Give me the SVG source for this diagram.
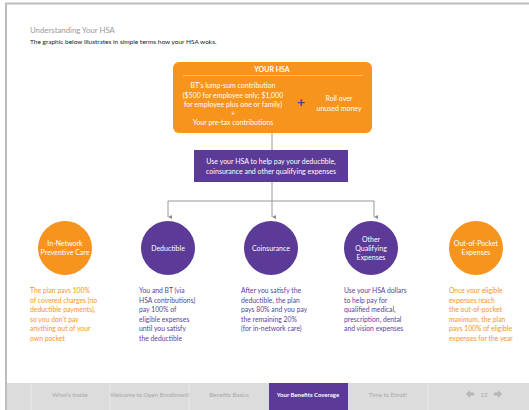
<svg xmlns="http://www.w3.org/2000/svg" width="529" height="410" viewBox="0 0 529 410">
  <defs>
    <style>
      text { font-family: Lato, "Open Sans", "Liberation Sans", sans-serif; }
      .title { font-size: 7.8px; fill: #9a9a9a; }
      .sub { font-size: 6.5px; fill: #222; }
      .wt { fill: #ffffff; font-size: 7px; text-anchor: middle; }
      .body-p { fill: #5b3f9a; font-size: 6.8px; }
      .body-o { fill: #f7941d; font-size: 6.8px; }
      .nav { fill: #a8a8a8; font-size: 6px; text-anchor: middle; }
      .conn { fill: none; stroke: #8c8c8c; stroke-width: 0.9; }
      .orange { fill: #f7941d; }
      .purple { fill: #5b3a98; }
    </style>
    <marker id="arr" viewBox="0 0 6 6" refX="3" refY="6" markerWidth="4" markerHeight="4" orient="auto-start-reverse" markerUnits="userSpaceOnUse">
      <path d="M0,0 L6,0 L3,6 Z" fill="#8c8c8c"/>
    </marker>
  </defs>

  <rect width="529" height="410" fill="#ffffff"/>
  <!-- page frame -->
  <line x1="5" y1="3.5" x2="529" y2="3.5" stroke="#bdbdbd" stroke-width="2"/>
  <line x1="6" y1="3" x2="6" y2="410" stroke="#bdbdbd" stroke-width="2"/>

  <text class="title" x="30" y="33">Understanding Your HSA</text>
  <text class="sub" x="30" y="44">The graphic below illustrates in simple terms how your HSA woks.</text>

  <!-- connectors -->
  <g id="connectors">
    <line class="conn" x1="272" y1="133" x2="272" y2="150"/>
    <line class="conn" x1="272" y1="182" x2="272" y2="201"/>
    <polyline class="conn" points="168,217 168,201 374,201 374,217" marker-start="url(#arr)" marker-end="url(#arr)"/>
    <line class="conn" x1="272" y1="201" x2="272" y2="217" marker-end="url(#arr)"/>
  </g>

  <g id="your-hsa">
    <rect class="orange" x="173" y="62" width="199" height="71" rx="6"/>
    <text class="wt" x="272" y="72" font-weight="bold">YOUR HSA</text>
    <line x1="183" y1="75.5" x2="363" y2="75.5" stroke="#fbc98d" stroke-width="0.8"/>
    <text class="wt" x="233" y="88">BT’s lump-sum contribution</text>
    <text class="wt" x="233" y="97.5">($500 for employee only; $1,000</text>
    <text class="wt" x="233" y="107">for employee plus one or family)</text>
    <text class="wt" x="233" y="116">+</text>
    <text class="wt" x="233" y="125">Your pre-tax contributions</text>
    <text x="301" y="107" fill="#5b3a98" font-size="14" font-weight="bold" text-anchor="middle">+</text>
    <text class="wt" x="339" y="101">Roll over</text>
    <text class="wt" x="339" y="110.5">unused money</text>
  </g>

  <g id="use-hsa">
    <rect class="purple" x="194" y="150" width="154" height="32"/>
    <text class="wt" x="271" y="164">Use your HSA to help pay your deductible,</text>
    <text class="wt" x="271" y="173.5">coinsurance and other qualifying expenses</text>
  </g>

  <g id="preventive">
    <circle class="orange" cx="65" cy="248" r="27"/>
    <text class="wt" x="65" y="246">In-Network</text>
    <text class="wt" x="65" y="255">Preventive Care</text>
    <text class="body-o" x="30">
      <tspan x="30" y="293">The plan pays 100%</tspan>
      <tspan x="30" y="302.5">of covered charges (no</tspan>
      <tspan x="30" y="312">deductible payments),</tspan>
      <tspan x="30" y="321.5">so you don’t pay</tspan>
      <tspan x="30" y="331">anything out of your</tspan>
      <tspan x="30" y="340.5">own pocket</tspan>
    </text>
  </g>

  <g id="deductible">
    <circle class="purple" cx="168" cy="248" r="27"/>
    <text class="wt" x="168" y="251">Deductible</text>
    <text class="body-p">
      <tspan x="139" y="293">You and BT (via</tspan>
      <tspan x="139" y="302.5">HSA contributions)</tspan>
      <tspan x="139" y="312">pay 100% of</tspan>
      <tspan x="139" y="321.5">eligible expenses</tspan>
      <tspan x="139" y="331">until you satisfy</tspan>
      <tspan x="139" y="340.5">the deductible</tspan>
    </text>
  </g>

  <g id="coinsurance">
    <circle class="purple" cx="271" cy="248" r="27"/>
    <text class="wt" x="271" y="251">Coinsurance</text>
    <text class="body-p">
      <tspan x="241" y="293">After you satisfy the</tspan>
      <tspan x="241" y="302.5">deductible, the plan</tspan>
      <tspan x="241" y="312">pays 80% and you pay</tspan>
      <tspan x="241" y="321.5">the remaining 20%</tspan>
      <tspan x="241" y="331">(for in-network care)</tspan>
    </text>
  </g>

  <g id="other-expenses">
    <circle class="purple" cx="371" cy="248" r="27"/>
    <text class="wt" x="371" y="242">Other</text>
    <text class="wt" x="371" y="251">Qualifying</text>
    <text class="wt" x="371" y="260">Expenses</text>
    <text class="body-p">
      <tspan x="344" y="293">Use your HSA dollars</tspan>
      <tspan x="344" y="302.5">to help pay for</tspan>
      <tspan x="344" y="312">qualified medical,</tspan>
      <tspan x="344" y="321.5">prescription, dental</tspan>
      <tspan x="344" y="331">and vision expenses</tspan>
    </text>
  </g>

  <g id="out-of-pocket">
    <circle class="orange" cx="476" cy="248" r="27"/>
    <text class="wt" x="476" y="246">Out-of-Pocket</text>
    <text class="wt" x="476" y="255">Expenses</text>
    <text class="body-o">
      <tspan x="449" y="293">Once your eligible</tspan>
      <tspan x="449" y="302.5">expenses reach</tspan>
      <tspan x="449" y="312">the out-of-pocket</tspan>
      <tspan x="449" y="321.5">maximum, the plan</tspan>
      <tspan x="449" y="331">pays 100% of eligible</tspan>
      <tspan x="449" y="340.5">expenses for the year</tspan>
    </text>
  </g>

  <!-- bottom navigation bar -->
  <g id="nav">
    <rect x="7" y="383" width="522" height="27" fill="#dcdcdc"/>
    <rect x="269" y="383" width="79" height="27" fill="#5b3a98"/>
    <g stroke="#eeeeee" stroke-width="0.8">
      <line x1="31" y1="383" x2="31" y2="410"/>
      <line x1="110" y1="383" x2="110" y2="410"/>
      <line x1="189" y1="383" x2="189" y2="410"/>
      <line x1="428" y1="383" x2="428" y2="410"/>
    </g>
    <text class="nav" x="70" y="396.5">What’s Inside</text>
    <text class="nav" x="150" y="396.5">Welcome to Open Enrollment!</text>
    <text class="nav" x="229" y="396.5">Benefits Basics</text>
    <text class="nav" x="308" y="396.5" font-weight="bold" style="fill:#ffffff">Your Benefits Coverage</text>
    <text class="nav" x="388" y="396.5">Time to Enroll!</text>
    <path d="M466,394 L470,390 L470,392.5 L474,392.5 L474,395.5 L470,395.5 L470,398 Z" fill="#b5b5b5"/>
    <text class="nav" x="484" y="396.5">12</text>
    <path d="M502,394 L498,390 L498,392.5 L494,392.5 L494,395.5 L498,395.5 L498,398 Z" fill="#b5b5b5"/>
  </g>
</svg>
